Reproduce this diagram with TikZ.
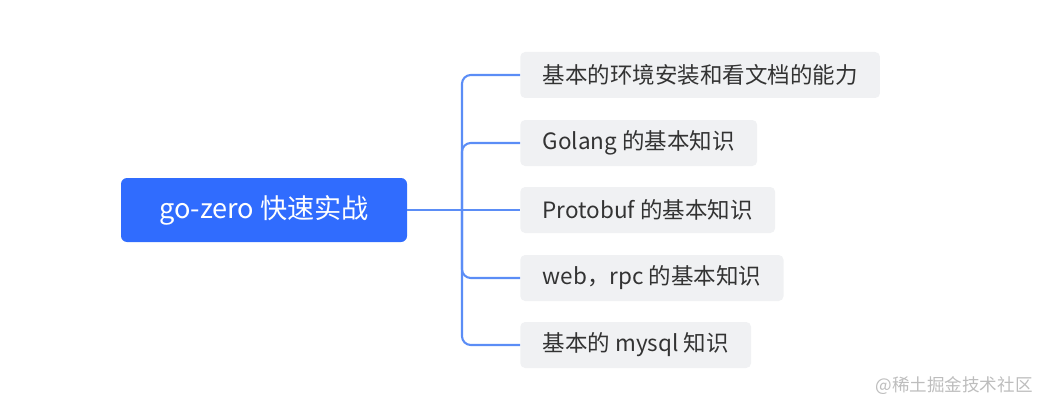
\documentclass[tikz,border=0pt]{standalone}
\usepackage{fontspec}
\setmainfont{Noto Sans CJK SC}
\definecolor{rootblue}{HTML}{306CFE}
\definecolor{linkblue}{HTML}{5B8DF6}
\definecolor{leafgrey}{HTML}{F0F1F3}
\definecolor{leaftext}{HTML}{333333}
\definecolor{marktext}{HTML}{BDBDBD}
\tikzset{
  rootbox/.style={fill=rootblue, text=white, rounded corners=0.15cm, minimum width=7.15cm, minimum height=1.6cm, font=\fontsize{19.3}{23}\selectfont},
  leafbox/.style={fill=leafgrey, text=leaftext, rounded corners=0.12cm, anchor=west, inner xsep=0.56cm, minimum height=1.15cm, font=\fontsize{16}{19}\selectfont},
  link/.style={draw=linkblue, line width=1.5pt, rounded corners=0.22cm}
}
\begin{document}
\begin{tikzpicture}
\useasboundingbox (0,0) rectangle (26.175,10.325);
\node[rootbox] (root) at (6.6,5.075) {go-zero 快速实战};
\node[leafbox] (env) at (13.0,8.45) {基本的环境安装和看文档的能力};
\node[leafbox] (golang) at (13.0,6.75) {Golang 的基本知识};
\node[leafbox] (proto) at (13.0,5.075) {Protobuf 的基本知识};
\node[leafbox] (web) at (13.0,3.375) {web，rpc 的基本知识};
\node[leafbox] (mysql) at (13.0,1.7) {基本的 mysql 知识};
\coordinate (fork) at (11.55,5.075);
\draw[link] (root.east) -- (proto.west);
\draw[link] (fork) |- (env.west);
\draw[link] (fork) |- (golang.west);
\draw[link] (fork) |- (web.west);
\draw[link] (fork) |- (mysql.west);
\node[text=marktext, font=\fontsize{12.5}{15}\selectfont] (mark) at (23.85,0.675) {@稀土掘金技术社区};
\end{tikzpicture}
\end{document}
